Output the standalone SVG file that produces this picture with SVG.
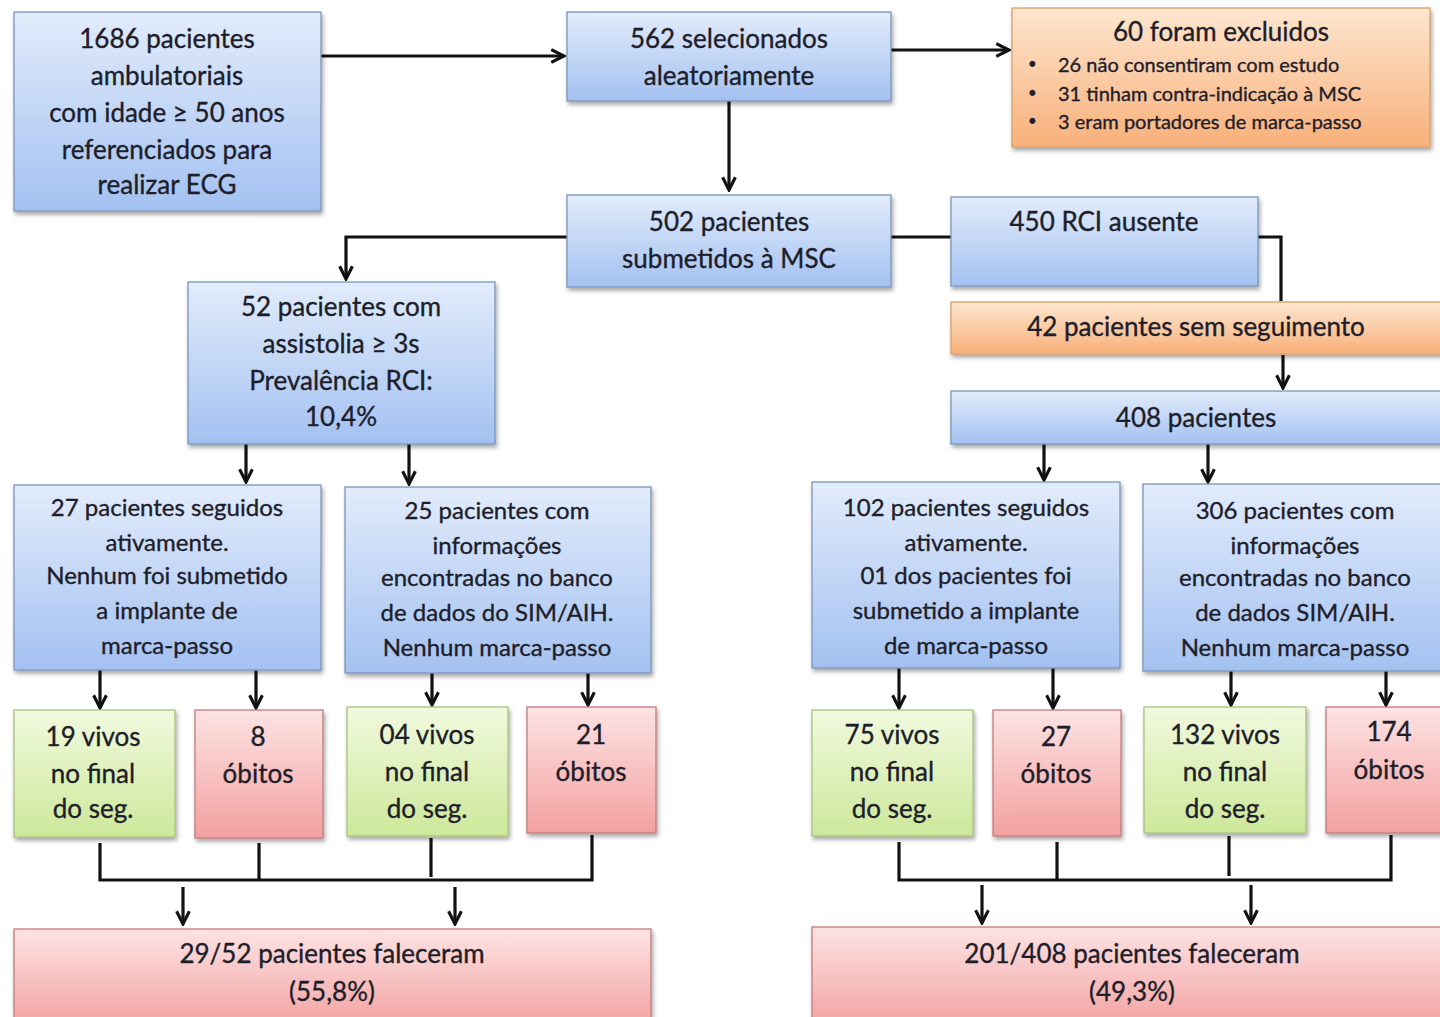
<svg xmlns="http://www.w3.org/2000/svg" width="1440" height="1017" viewBox="0 0 1440 1017">
<defs>
<linearGradient id="gBlue" x1="0" y1="0" x2="0" y2="1"><stop offset="0" stop-color="#e2ecfb"/><stop offset="1" stop-color="#a3c1f1"/></linearGradient>
<linearGradient id="gOrange" x1="0" y1="0" x2="0" y2="1"><stop offset="0" stop-color="#fde6cf"/><stop offset="1" stop-color="#f8b07a"/></linearGradient>
<linearGradient id="gGreen" x1="0" y1="0" x2="0" y2="1"><stop offset="0" stop-color="#f1f9de"/><stop offset="1" stop-color="#cde89a"/></linearGradient>
<linearGradient id="gRed" x1="0" y1="0" x2="0" y2="1"><stop offset="0" stop-color="#fde3e3"/><stop offset="1" stop-color="#f3a0a0"/></linearGradient>
<filter id="sh" x="-10%" y="-10%" width="120%" height="130%"><feDropShadow dx="1.5" dy="3" stdDeviation="2" flood-color="#000" flood-opacity="0.35"/></filter>
<marker id="arr" viewBox="0 0 12 12" refX="10.5" refY="6" markerWidth="17" markerHeight="17" markerUnits="userSpaceOnUse" orient="auto"><path d="M1.5,1.5 L10.5,6 L1.5,10.5" fill="none" stroke="#111" stroke-width="2.2" stroke-linejoin="miter"/></marker>
</defs>
<style>
text{font-family:Lato,"Open Sans","Liberation Sans",sans-serif;fill:#1e1e2a;stroke:#1e1e2a;stroke-width:0.35;text-anchor:middle;dominant-baseline:central}
.t26{font-size:26px}
.t24{font-size:24px}
.t20{font-size:20px}
.dot{font-size:15px}
.bl{fill:url(#gBlue);stroke:#7a95bd;stroke-width:1.3;filter:url(#sh)}
.or{fill:url(#gOrange);stroke:#d9a067;stroke-width:1.3;filter:url(#sh)}
.gr{fill:url(#gGreen);stroke:#a8c27f;stroke-width:1.3;filter:url(#sh)}
.rd{fill:url(#gRed);stroke:#c47b7b;stroke-width:1.3;filter:url(#sh)}
.ln{fill:none;stroke:#111;stroke-width:3.2}
.ar{fill:none;stroke:#111;stroke-width:3.2;marker-end:url(#arr)}
.lft{text-anchor:start}
</style>
<rect width="1440" height="1017" fill="#ffffff"/>

<g id="connectors">
<line class="ar" x1="321" y1="56" x2="564" y2="56"/>
<line class="ar" x1="891" y1="50" x2="1009" y2="50"/>
<line class="ar" x1="729" y1="101" x2="729" y2="190"/>
<polyline class="ar" points="567,237 346,237 346,279"/>
<line class="ln" x1="891" y1="237" x2="951" y2="237"/>
<polyline class="ln" points="1258,237 1281,237 1281,301"/>
<line class="ar" x1="1283" y1="355" x2="1283" y2="388"/>
<line class="ar" x1="246" y1="444" x2="246" y2="482"/>
<line class="ar" x1="409" y1="444" x2="409" y2="484"/>
<line class="ar" x1="1044" y1="444" x2="1044" y2="480"/>
<line class="ar" x1="1208" y1="444" x2="1208" y2="482"/>
<line class="ar" x1="100" y1="670" x2="100" y2="708"/>
<line class="ar" x1="256" y1="670" x2="256" y2="708"/>
<line class="ar" x1="432" y1="673" x2="432" y2="705"/>
<line class="ar" x1="588" y1="673" x2="588" y2="705"/>
<line class="ar" x1="899" y1="668" x2="899" y2="708"/>
<line class="ar" x1="1053" y1="668" x2="1053" y2="708"/>
<line class="ar" x1="1231" y1="671" x2="1231" y2="705"/>
<line class="ar" x1="1386" y1="671" x2="1386" y2="705"/>
<polyline class="ln" points="100,843 100,880 592,880 592,835"/>
<line class="ln" x1="259" y1="843" x2="259" y2="880"/>
<line class="ln" x1="431" y1="838" x2="431" y2="877"/>
<line class="ar" x1="183" y1="887" x2="183" y2="924"/>
<line class="ar" x1="455" y1="887" x2="455" y2="924"/>
<polyline class="ln" points="899,842 899,880 1391,880 1391,835"/>
<line class="ln" x1="1057" y1="842" x2="1057" y2="880"/>
<line class="ln" x1="1229" y1="836" x2="1229" y2="876"/>
<line class="ar" x1="982" y1="885" x2="982" y2="923"/>
<line class="ar" x1="1251" y1="885" x2="1251" y2="923"/>
</g>

<g id="n1686"><rect class="bl" x="14" y="12" width="307" height="199"/>
<text class="t26" x="167" y="38">1686 pacientes</text>
<text class="t26" x="167" y="75">ambulatoriais</text>
<text class="t26" x="167" y="112">com idade ≥ 50 anos</text>
<text class="t26" x="167" y="149">referenciados para</text>
<text class="t26" x="167" y="184">realizar ECG</text></g>

<g id="n562"><rect class="bl" x="567" y="12" width="324" height="89"/>
<text class="t26" x="729" y="38">562 selecionados</text>
<text class="t26" x="729" y="75">aleatoriamente</text></g>

<g id="n60"><rect class="or" x="1012" y="8" width="418" height="139"/>
<text class="t26" x="1221" y="31">60 foram excluidos</text>
<text class="dot lft" x="1028" y="63">•</text><text class="t20 lft" x="1058" y="64">26 não consentiram com estudo</text>
<text class="dot lft" x="1028" y="92">•</text><text class="t20 lft" x="1058" y="93">31 tinham contra-indicação à MSC</text>
<text class="dot lft" x="1028" y="120">•</text><text class="t20 lft" x="1058" y="121">3 eram portadores de marca-passo</text></g>

<g id="n502"><rect class="bl" x="567" y="195" width="324" height="92"/>
<text class="t26" x="729" y="221">502 pacientes</text>
<text class="t26" x="729" y="258">submetidos à MSC</text></g>

<g id="n450"><rect class="bl" x="951" y="197" width="307" height="89"/>
<text class="t26" x="1104" y="221">450 RCI ausente</text></g>

<g id="n42"><rect class="or" x="951" y="302" width="500" height="52"/>
<text class="t26" x="1196" y="326">42 pacientes sem seguimento</text></g>

<g id="n408"><rect class="bl" x="951" y="391" width="500" height="53"/>
<text class="t26" x="1196" y="417">408 pacientes</text></g>

<g id="n52"><rect class="bl" x="188" y="282" width="307" height="162"/>
<text class="t26" x="341" y="306">52 pacientes com</text>
<text class="t26" x="341" y="343">assistolia ≥ 3s</text>
<text class="t26" x="341" y="380">Prevalência RCI:</text>
<text class="t26" x="341" y="416">10,4%</text></g>

<g id="n27"><rect class="bl" x="14" y="485" width="307" height="185"/>
<text class="t24" x="167" y="506">27 pacientes seguidos</text>
<text class="t24" x="167" y="541">ativamente.</text>
<text class="t24" x="167" y="574">Nenhum foi submetido</text>
<text class="t24" x="167" y="609">a implante de</text>
<text class="t24" x="167" y="644">marca-passo</text></g>

<g id="n25"><rect class="bl" x="345" y="487" width="306" height="186"/>
<text class="t24" x="497" y="509">25 pacientes com</text>
<text class="t24" x="497" y="544">informações</text>
<text class="t24" x="497" y="576">encontradas no banco</text>
<text class="t24" x="497" y="611">de dados do SIM/AIH.</text>
<text class="t24" x="497" y="646">Nenhum marca-passo</text></g>

<g id="n102"><rect class="bl" x="812" y="482" width="308" height="186"/>
<text class="t24" x="966" y="506">102 pacientes seguidos</text>
<text class="t24" x="966" y="541">ativamente.</text>
<text class="t24" x="966" y="574">01 dos pacientes foi</text>
<text class="t24" x="966" y="609">submetido a implante</text>
<text class="t24" x="966" y="644">de marca-passo</text></g>

<g id="n306"><rect class="bl" x="1143" y="484" width="308" height="187"/>
<text class="t24" x="1295" y="509">306 pacientes com</text>
<text class="t24" x="1295" y="544">informações</text>
<text class="t24" x="1295" y="576">encontradas no banco</text>
<text class="t24" x="1295" y="611">de dados SIM/AIH.</text>
<text class="t24" x="1295" y="646">Nenhum marca-passo</text></g>

<g id="n19"><rect class="gr" x="14" y="710" width="161" height="127"/>
<text class="t26" x="93" y="736">19 vivos</text>
<text class="t26" x="93" y="773">no final</text>
<text class="t26" x="93" y="808">do seg.</text></g>

<g id="n8"><rect class="rd" x="195" y="710" width="128" height="128"/>
<text class="t26" x="258" y="736">8</text>
<text class="t26" x="258" y="773">óbitos</text></g>

<g id="n04"><rect class="gr" x="347" y="707" width="161" height="129"/>
<text class="t26" x="427" y="734">04 vivos</text>
<text class="t26" x="427" y="771">no final</text>
<text class="t26" x="427" y="808">do seg.</text></g>

<g id="n21"><rect class="rd" x="527" y="707" width="129" height="126"/>
<text class="t26" x="591" y="734">21</text>
<text class="t26" x="591" y="771">óbitos</text></g>

<g id="n75"><rect class="gr" x="812" y="710" width="161" height="126"/>
<text class="t26" x="892" y="734">75 vivos</text>
<text class="t26" x="892" y="771">no final</text>
<text class="t26" x="892" y="808">do seg.</text></g>

<g id="n27b"><rect class="rd" x="993" y="710" width="128" height="126"/>
<text class="t26" x="1056" y="736">27</text>
<text class="t26" x="1056" y="773">óbitos</text></g>

<g id="n132"><rect class="gr" x="1144" y="707" width="162" height="126"/>
<text class="t26" x="1225" y="734">132 vivos</text>
<text class="t26" x="1225" y="771">no final</text>
<text class="t26" x="1225" y="808">do seg.</text></g>

<g id="n174"><rect class="rd" x="1326" y="707" width="126" height="126"/>
<text class="t26" x="1389" y="731">174</text>
<text class="t26" x="1389" y="769">óbitos</text></g>

<g id="n2952"><rect class="rd" x="14" y="929" width="637" height="100"/>
<text class="t26" x="332" y="953">29/52 pacientes faleceram</text>
<text class="t26" x="332" y="991">(55,8%)</text></g>

<g id="n201"><rect class="rd" x="812" y="927" width="640" height="102"/>
<text class="t26" x="1132" y="953">201/408 pacientes faleceram</text>
<text class="t26" x="1132" y="991">(49,3%)</text></g>
</svg>
